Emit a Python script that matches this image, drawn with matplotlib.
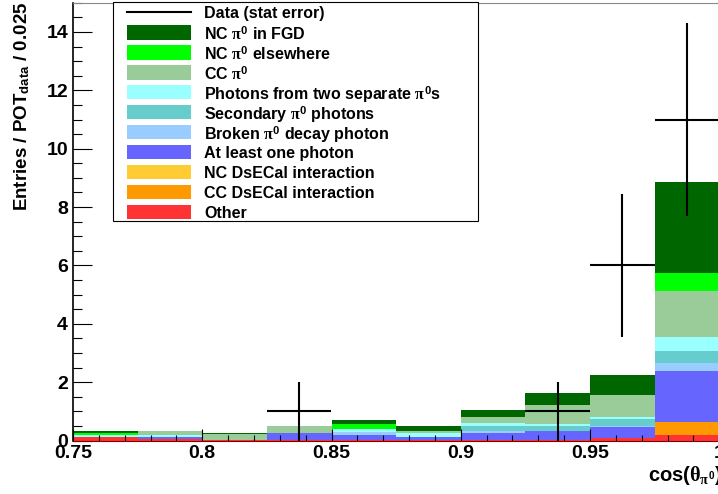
import numpy as np
import matplotlib
matplotlib.use('Agg')
import matplotlib.pyplot as plt
from matplotlib.ticker import MultipleLocator, FixedLocator
from matplotlib.patches import Rectangle
from matplotlib.lines import Line2D

plt.rcParams['font.family'] = ['Liberation Sans', 'DejaVu Sans']
plt.rcParams['font.weight'] = 'bold'
plt.rcParams['mathtext.fontset'] = 'custom'
plt.rcParams['mathtext.rm'] = 'Liberation Sans:bold'
plt.rcParams['mathtext.bf'] = 'Liberation Sans:bold'
plt.rcParams['mathtext.it'] = 'Liberation Serif'

# Binning: cos(theta_pi0) from 0.75 to 1.0 in steps of 0.025
bin_edges = np.round(np.arange(0.75, 1.0001, 0.025), 4)

# Stacked MC components (bottom to top), entries / POT_data per bin
other      = [0.12, 0.04, 0.02, 0.02, 0.02, 0.02, 0.02, 0.02, 0.10, 0.20]
cc_dsecal  = [0.00, 0.00, 0.00, 0.00, 0.00, 0.00, 0.00, 0.00, 0.00, 0.45]
nc_dsecal  = [0.00, 0.00, 0.00, 0.00, 0.00, 0.00, 0.00, 0.00, 0.00, 0.00]
one_photon = [0.00, 0.08, 0.00, 0.22, 0.18, 0.09, 0.23, 0.29, 0.36, 1.72]
broken     = [0.00, 0.00, 0.00, 0.00, 0.08, 0.00, 0.07, 0.00, 0.05, 0.30]
secondary  = [0.00, 0.00, 0.00, 0.00, 0.00, 0.00, 0.18, 0.17, 0.23, 0.39]
two_pi0    = [0.07, 0.07, 0.00, 0.00, 0.11, 0.14, 0.11, 0.08, 0.05, 0.50]
cc_pi0     = [0.00, 0.14, 0.19, 0.26, 0.00, 0.07, 0.21, 0.64, 0.76, 1.55]
nc_else    = [0.07, 0.00, 0.00, 0.00, 0.16, 0.00, 0.00, 0.00, 0.00, 0.62]
nc_fgd     = [0.07, 0.00, 0.05, 0.00, 0.14, 0.17, 0.24, 0.44, 0.68, 3.13]

# Data counts per bin (stat error = sqrt(N))
data_counts = [0, 0, 0, 1, 0, 0, 0, 1, 6, 11]

# legend order (top to bottom), stacking order is the reverse
components = [
    ('NC $\\pi^{0}$ in FGD', nc_fgd, '#006600'),
    ('NC $\\pi^{0}$ elsewhere', nc_else, '#00ff00'),
    ('CC $\\pi^{0}$', cc_pi0, '#99cc99'),
    ('Photons from two separate $\\pi^{0}$s', two_pi0, '#99ffff'),
    ('Secondary $\\pi^{0}$ photons', secondary, '#66cccc'),
    ('Broken $\\pi^{0}$ decay photon', broken, '#99ccff'),
    ('At least one photon', one_photon, '#6666ff'),
    ('NC DsECal interaction', nc_dsecal, '#ffcc33'),
    ('CC DsECal interaction', cc_dsecal, '#ff9900'),
    ('Other', other, '#ff3333'),
]

W, H = 718, 494
fig = plt.figure(figsize=(W / 100, H / 100), dpi=100)


def fx(px):
    return px / W


def fy(py):
    return 1 - py / H


ax = fig.add_axes([fx(73), fy(440.5), (719.25 - 73) / W, (440.5 - 2.8) / H])

# stacked histogram
bottom = np.zeros(len(bin_edges) - 1)
for label, vals, col in reversed(components):
    top = bottom + np.array(vals)
    ax.stairs(top, bin_edges, baseline=bottom, fill=True, color=col, lw=0)
    bottom = top

# data points with stat errors
centers = 0.5 * (bin_edges[:-1] + bin_edges[1:])
counts = np.array(data_counts, dtype=float)
mask = counts > 0
ax.errorbar(centers[mask], counts[mask], xerr=0.0125, yerr=np.sqrt(counts[mask]),
            fmt='none', ecolor='black', elinewidth=1.5, capsize=0, zorder=3)

ax.set_xlim(0.75, 1.0)
ax.set_ylim(0, 15)

ax.xaxis.set_major_locator(FixedLocator([0.75, 0.8, 0.85, 0.9, 0.95, 1.0]))
ax.set_xticklabels(['0.75', '0.8', '0.85', '0.9', '0.95', '1'])
ax.xaxis.set_minor_locator(MultipleLocator(0.01))
ax.yaxis.set_major_locator(MultipleLocator(2))
ax.yaxis.set_minor_locator(MultipleLocator(0.5))
ax.set_yticks(np.arange(0, 15, 2))

ax.tick_params(axis='both', which='both', direction='in', width=0.8, color='black',
               labelsize=14)
ax.tick_params(axis='y', which='major', length=13.9, pad=3.6)
ax.tick_params(axis='y', which='minor', length=6.7)
ax.tick_params(axis='x', which='major', length=8.6, pad=3)
ax.tick_params(axis='x', which='minor', length=4.3)
for lab in ax.get_xticklabels() + ax.get_yticklabels():
    lab.set_fontweight('bold')

ax.spines['left'].set_linewidth(1.2)
ax.spines['bottom'].set_color('#800000')
ax.spines['top'].set_color('#888888')
ax.spines['top'].set_linewidth(0.8)
ax.spines['right'].set_visible(False)

# axis titles
fig.text(fx(12), fy(2), 'Entries / POT$_{\\mathrm{data}}$ / 0.025', rotation=90,
         ha='left', va='top', fontsize=13.5, fontweight='bold')
fig.text(fx(722), fy(481), 'cos($\\theta_{\\pi^{0}}$)', ha='right', va='baseline',
         fontsize=14.5, fontweight='bold')

# legend box
fig.patches.append(Rectangle((fx(113.3), fy(220.7)), fx(478) - fx(113.3),
                             fy(2) - fy(220.7), transform=fig.transFigure,
                             facecolor='white', edgecolor='black', lw=0.8, zorder=5))
row0, dy = 12.3, 19.97
fig.lines.append(Line2D([fx(126.7), fx(191.3)], [fy(row0), fy(row0)],
                        transform=fig.transFigure, color='black', lw=1.5, zorder=6))
fig.text(fx(204.3), fy(row0), 'Data (stat error)', ha='left', va='center_baseline',
         fontsize=11.5, fontweight='bold', zorder=6)
for i, (label, vals, col) in enumerate(components):
    yc = row0 + dy * (i + 1)
    fig.patches.append(Rectangle((fx(126.7), fy(yc + 7.3)), fx(191.3) - fx(126.7),
                                 fy(yc - 7.3) - fy(yc + 7.3), transform=fig.transFigure,
                                 facecolor=col, edgecolor='none', zorder=6))
    fig.text(fx(204.3), fy(yc), label, ha='left', va='center_baseline',
             fontsize=11.5, fontweight='bold', zorder=6)

fig.savefig('out.png', dpi=100)
